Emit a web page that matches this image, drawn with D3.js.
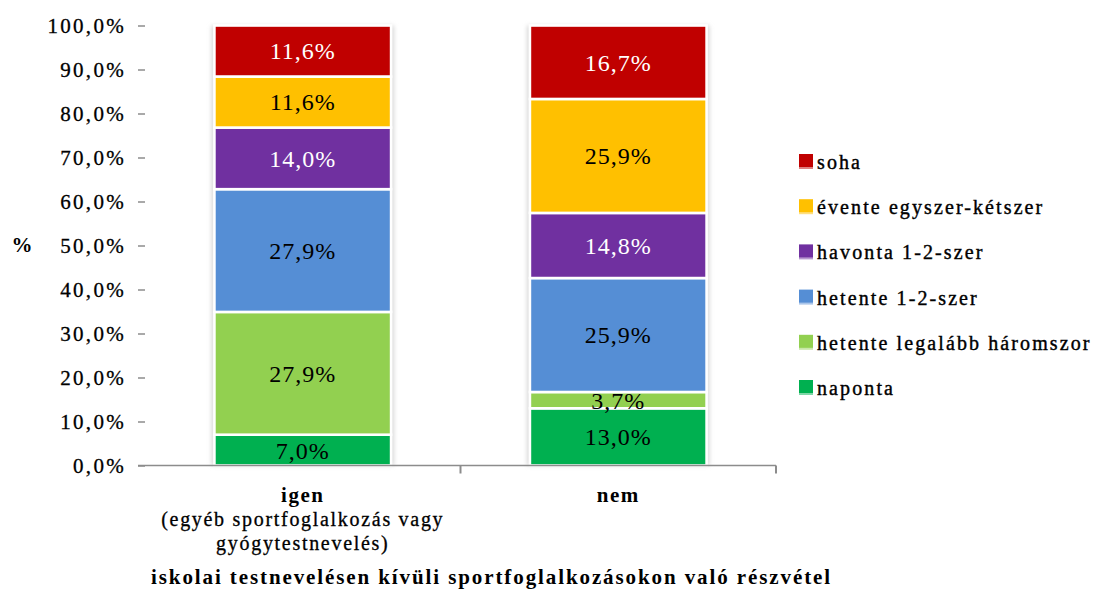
<!DOCTYPE html>
<html>
<head>
<meta charset="utf-8">
<script src="https://cdn.jsdelivr.net/npm/d3@7"></script>
<style>
  body { margin: 0; background: #fff; }
  svg { display: block; }
  text { font-family: "Liberation Serif", "Times New Roman", serif; }
</style>
</head>
<body>
<svg id="chart" width="1096" height="590"></svg>
<script>
// Groups on the x axis
const categories = ["igen", "nem"];
const categoryLines = [
  ["igen", "(egyéb sportfoglalkozás vagy", "gyógytestnevelés)"],
  ["nem"]
];
// Stack order, bottom to top
const seriesNames = ["naponta", "hetente legalább háromszor", "hetente 1-2-szer",
                     "havonta 1-2-szer", "évente egyszer-kétszer", "soha"];
const seriesColors = ["#00B050", "#92D050", "#558ED5", "#7030A0", "#FFC000", "#C00000"];
const labelColors = ["#000", "#000", "#000", "#fff", "#000", "#fff"];
// Percentages per series: [igen, nem]
const naponta = [7.0, 13.0];
const hetenteLegalabb = [27.9, 3.7];
const hetente12 = [27.9, 25.9];
const havonta12 = [14.0, 14.8];
const evente = [11.6, 25.9];
const soha = [11.6, 16.7];
const yTicks = [0, 10, 20, 30, 40, 50, 60, 70, 80, 90, 100];
const xTitle = "iskolai testnevelésen kívüli sportfoglalkozásokon való részvétel";
const yTitle = "%";

const seriesValues = [naponta, hetenteLegalabb, hetente12, havonta12, evente, soha];
const rows = categories.map((c, i) => {
  const r = { cat: c };
  seriesNames.forEach((s, j) => { r[s] = seriesValues[j][i]; });
  return r;
});

const svg = d3.select("#chart");
const plot = { left: 145, right: 776, top: 25.5, bottom: 465.5 };
const serif = '"Liberation Serif", "Times New Roman", serif';

const x = d3.scaleBand().domain(categories).range([plot.left, plot.right]).paddingInner(0.44).paddingOuter(0.22);
const y = d3.scaleLinear().domain([0, 100]).range([plot.bottom, plot.top]);

const fmt = v => d3.format(".1f")(v).replace(".", ",") + "%";

// soft shadow behind the bars
const defs = svg.append("defs");
const f = defs.append("filter").attr("id", "shadow").attr("x", "-10%").attr("y", "-5%").attr("width", "120%").attr("height", "110%");
f.append("feGaussianBlur").attr("stdDeviation", 2);

// y axis: ticks and labels
const yAxis = svg.append("g").attr("transform", `translate(${plot.left},0)`)
  .call(d3.axisLeft(y).tickValues(yTicks).tickSize(7).tickFormat(fmt).tickPadding(12));
yAxis.attr("font-family", serif);
yAxis.select(".domain").remove();
yAxis.selectAll(".tick line").attr("stroke", "#8c8c8c").attr("stroke-width", 1.5);
yAxis.selectAll(".tick text")
  .style("font-family", serif).style("font-size", "21px")
  .style("letter-spacing", "2.3px").style("fill", "#000")
  .attr("stroke", "#000").attr("stroke-width", 0.3);

// stacked bars
const stack = d3.stack().keys(seriesNames)(rows);

svg.append("g").selectAll("rect").data(categories).join("rect")
  .attr("x", d => x(d) - 3).attr("width", x.bandwidth() + 6)
  .attr("y", y(100)).attr("height", y(0) - y(100))
  .attr("fill", "#d9d9d9").attr("filter", "url(#shadow)");

const layers = svg.append("g").selectAll("g").data(stack).join("g")
  .attr("fill", (d, i) => seriesColors[i]);

layers.selectAll("rect").data(d => d.map(p => ({ p, cat: p.data.cat }))).join("rect")
  .attr("x", d => x(d.cat))
  .attr("width", x.bandwidth())
  .attr("y", d => y(d.p[1]))
  .attr("height", d => y(d.p[0]) - y(d.p[1]))
  .attr("stroke", "#fff").attr("stroke-width", 2.6)
  .attr("stroke-linejoin", "miter");

// value labels
stack.forEach((layer, i) => {
  svg.append("g").selectAll("text").data(layer).join("text")
    .attr("x", d => x(d.data.cat) + x.bandwidth() / 2)
    .attr("y", d => (y(d[0]) + y(d[1])) / 2)
    .attr("dy", "0.35em")
    .attr("text-anchor", "middle")
    .style("font-size", "24px").style("letter-spacing", "1px")
    .style("fill", labelColors[i])
    .text(d => fmt(d[1] - d[0]));
});

// baseline
svg.append("line").attr("x1", 138).attr("x2", plot.right)
  .attr("y1", y(0)).attr("y2", y(0)).attr("stroke", "#8c8c8c").attr("stroke-width", 1.5);
// category separators on x axis
const step = x.step();
svg.append("g").selectAll("line").data(categories).join("line")
  .attr("x1", d => x(d) + x.bandwidth() + (step - x.bandwidth()) / 2)
  .attr("x2", d => x(d) + x.bandwidth() + (step - x.bandwidth()) / 2)
  .attr("y1", y(0)).attr("y2", y(0) + 8)
  .attr("stroke", "#8c8c8c").attr("stroke-width", 2);

// category labels
categories.forEach((c, i) => {
  const t = svg.append("text")
    .attr("x", x(c) + x.bandwidth() / 2)
    .attr("y", 502)
    .attr("text-anchor", "middle")
    .style("fill", "#000");
  categoryLines[i].forEach((line, k) => {
    t.append("tspan").attr("x", x(c) + x.bandwidth() / 2)
      .attr("dy", k === 0 ? 0 : 24)
      .style("font-weight", k === 0 ? "bold" : "normal")
      .style("font-size", k === 0 ? "21px" : "20px")
      .style("letter-spacing", k === 0 ? "1.5px" : "1.7px")
      .attr("stroke", k === 0 ? "none" : "#000").attr("stroke-width", 0.3)
      .text(line);
  });
});

// axis titles
svg.append("text").attr("x", (plot.left + plot.right) / 2 + 31).attr("y", 584)
  .attr("text-anchor", "middle").style("font-weight", "bold").style("fill", "#000")
  .style("font-size", "21px").style("letter-spacing", "1.9px").text(xTitle);
svg.append("text").attr("x", 22).attr("y", 245).attr("dy", "0.35em")
  .attr("text-anchor", "middle").style("font-weight", "bold").style("fill", "#000")
  .style("font-size", "21px").text(yTitle);

// legend, top entry = top of stack
const legendNames = seriesNames.slice().reverse();
const legendColors = seriesColors.slice().reverse();
const legend = svg.append("g").attr("transform", "translate(799,162)");
const items = legend.selectAll("g").data(legendNames).join("g")
  .attr("transform", (d, i) => `translate(0,${i * 45.2})`);
items.append("rect").attr("x", 0).attr("y", -7).attr("width", 14).attr("height", 14)
  .attr("fill", (d, i) => legendColors[i]).attr("opacity", 0.5);
items.append("rect").attr("x", 0).attr("y", -8).attr("width", 14).attr("height", 13)
  .attr("fill", (d, i) => legendColors[i]);
items.append("text").attr("x", 18).attr("dy", "0.35em")
  .style("font-size", "20px").style("letter-spacing", "2.1px").style("fill", "#000")
  .attr("stroke", "#000").attr("stroke-width", 0.4)
  .text(d => d);
</script>
</body>
</html>
